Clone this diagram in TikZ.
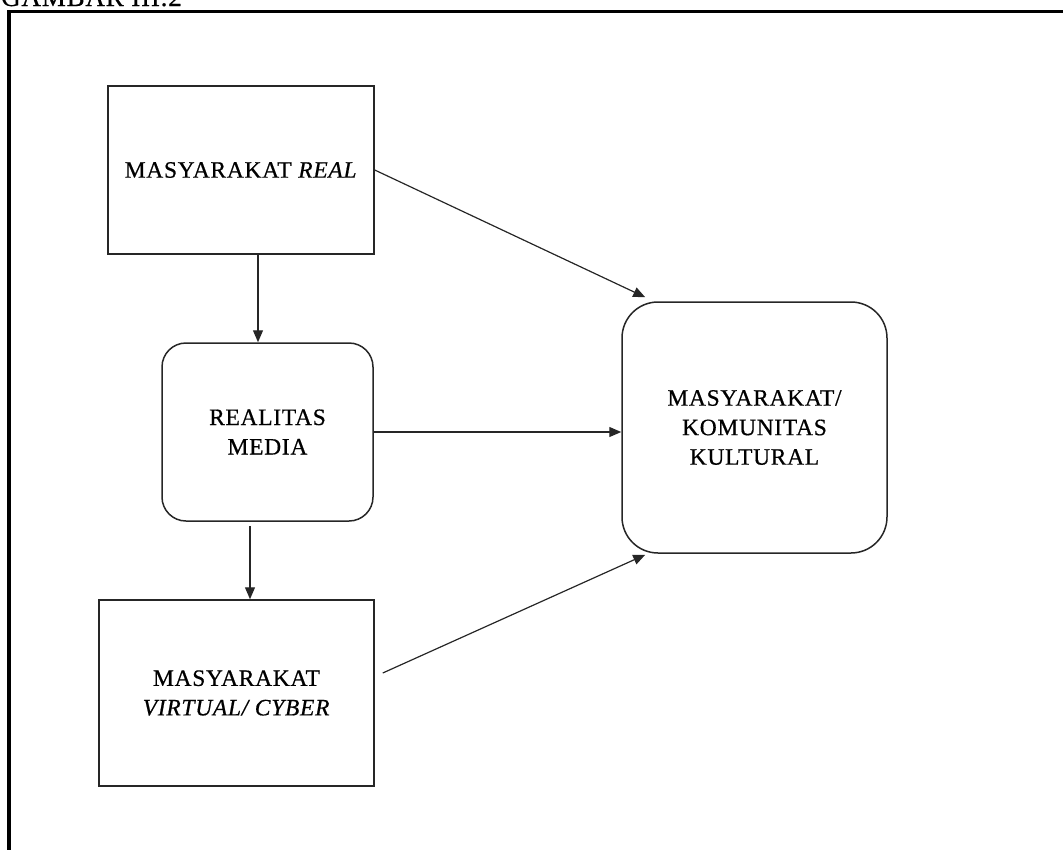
\documentclass[tikz,border=0pt]{standalone}
\usepackage{fontspec}
\setmainfont{Liberation Serif}[LetterSpace=3,FakeBold=0.6]
\usetikzlibrary{arrows.meta}
\begin{document}
\begin{tikzpicture}[x=1pt,y=-1pt,
  lbl/.style={font=\fontsize{23.5}{29.5}\selectfont, align=center, text=black},
  sqbox/.style={draw=black!85, line width=1.5pt, minimum width=#1, inner sep=0pt},
  rbox/.style={draw=black!85, line width=1.5pt, inner sep=0pt},
  arr/.style={draw=black!85, line width=1.2pt, -{Triangle[length=12pt,width=10pt]}}]
\useasboundingbox (0,0) rectangle (1063,849);
% heading (cut off at top, as in the source)
\node[anchor=base west, font=\fontsize{27}{30}\selectfont, inner sep=0pt] (head) at (1,6) {GAMBAR III.2};
% frame
\draw[line width=3.5pt] (9,851) -- (9,11.5) -- (1066,11.5);
% nodes
\node[lbl, sqbox=266pt, minimum height=168pt] (r) at (241,170) {MASYARAKAT \textit{REAL}};
\node[lbl, rbox, rounded corners=24pt, minimum width=211pt, minimum height=178pt] (m) at (267.5,432) {REALITAS\\MEDIA};
\node[lbl, sqbox=275pt, minimum height=186pt] (v) at (236.5,693) {MASYARAKAT\\\textit{VIRTUAL/ CYBER}};
\node[lbl, rbox, rounded corners=36pt, minimum width=265pt, minimum height=251pt] (k) at (754.5,427.5) {MASYARAKAT/\\KOMUNITAS\\KULTURAL};
% connectors
\draw[arr] ([xshift=17pt]r.south) -- ([xshift=-9.5pt]m.north);
\draw[arr] ([xshift=-17.5pt,yshift=-4pt]m.south) -- ([xshift=13.5pt]v.north);
\draw[arr] (m.east) -- (m.east -| k.west);
\draw[arr] (r.east) -- ([xshift=24pt,yshift=4pt]k.north west);
\draw[arr] ([xshift=8pt,yshift=20pt]v.east) -- ([xshift=24pt,yshift=-1pt]k.south west);
\end{tikzpicture}
\end{document}
